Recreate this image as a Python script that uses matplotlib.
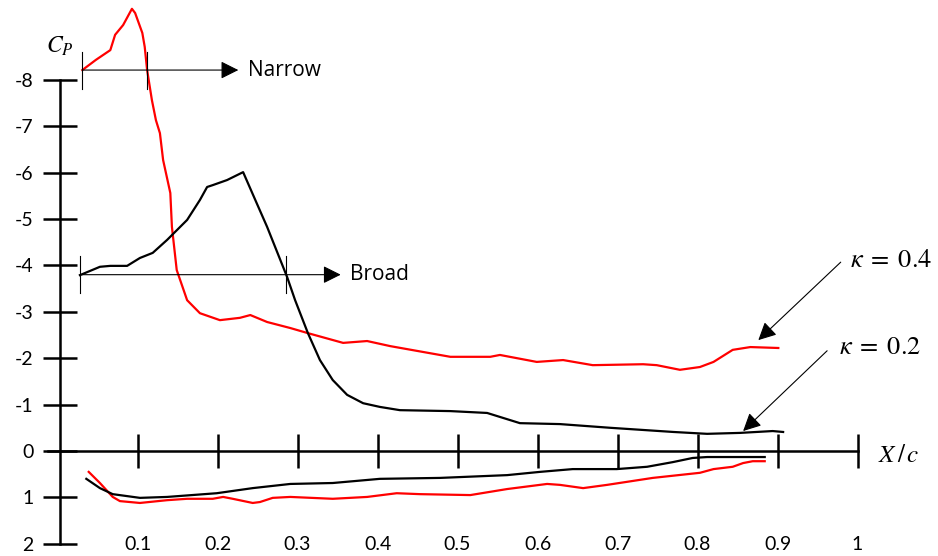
import matplotlib.pyplot as plt

plt.rcParams['axes.unicode_minus'] = False
plt.rcParams['mathtext.fontset'] = 'stix'

# kappa = 0.4 (red), upper and lower surface
red_up_x = [0.031, 0.048, 0.066, 0.072, 0.082, 0.093, 0.097, 0.106, 0.109, 0.112, 0.118, 0.123,
            0.128, 0.132, 0.141, 0.143, 0.149, 0.162, 0.178, 0.203, 0.228, 0.241, 0.262, 0.291,
            0.313, 0.357, 0.387, 0.416, 0.491, 0.541, 0.553, 0.599, 0.632, 0.669, 0.732, 0.749,
            0.778, 0.803, 0.820, 0.844, 0.866, 0.901]
red_up_y = [-8.21, -8.43, -8.64, -8.97, -9.18, -9.53, -9.44, -9.01, -8.71, -8.21, -7.56, -7.13,
            -6.85, -6.27, -5.56, -4.83, -3.90, -3.25, -2.97, -2.82, -2.87, -2.93, -2.78, -2.65,
            -2.54, -2.33, -2.37, -2.26, -2.03, -2.03, -2.07, -1.92, -1.96, -1.85, -1.87, -1.85,
            -1.75, -1.81, -1.92, -2.18, -2.24, -2.22]
red_lo_x = [0.039, 0.053, 0.069, 0.078, 0.103, 0.137, 0.162, 0.194, 0.207, 0.219, 0.244, 0.253,
            0.269, 0.291, 0.344, 0.387, 0.424, 0.453, 0.516, 0.562, 0.612, 0.628, 0.657, 0.687,
            0.744, 0.803, 0.820, 0.844, 0.857, 0.869, 0.884]
red_lo_y = [0.45, 0.69, 0.99, 1.08, 1.12, 1.06, 1.03, 1.03, 0.99, 1.03, 1.12, 1.10,
            1.01, 0.99, 1.03, 0.99, 0.91, 0.93, 0.95, 0.82, 0.71, 0.73, 0.80, 0.73,
            0.58, 0.47, 0.39, 0.34, 0.26, 0.22, 0.22]

# kappa = 0.2 (black), upper and lower surface
blk_up_x = [0.028, 0.053, 0.066, 0.087, 0.103, 0.119, 0.137, 0.162, 0.178, 0.187, 0.194, 0.212,
            0.232, 0.249, 0.262, 0.287, 0.297, 0.313, 0.328, 0.344, 0.362, 0.382, 0.403, 0.428,
            0.491, 0.537, 0.578, 0.628, 0.691, 0.770, 0.812, 0.853, 0.894, 0.907]
blk_up_y = [-3.79, -3.97, -3.99, -3.99, -4.16, -4.27, -4.55, -4.98, -5.41, -5.69, -5.73, -5.84,
            -6.01, -5.34, -4.83, -3.75, -3.25, -2.54, -1.96, -1.53, -1.21, -1.03, -0.95, -0.88,
            -0.86, -0.82, -0.60, -0.58, -0.50, -0.41, -0.37, -0.39, -0.43, -0.41]
blk_lo_x = [0.036, 0.053, 0.069, 0.103, 0.137, 0.199, 0.244, 0.291, 0.344, 0.403, 0.478, 0.562,
            0.603, 0.644, 0.699, 0.737, 0.769, 0.794, 0.812, 0.884]
blk_lo_y = [0.60, 0.80, 0.93, 1.01, 0.99, 0.91, 0.80, 0.71, 0.69, 0.60, 0.58, 0.52,
            0.45, 0.39, 0.39, 0.34, 0.24, 0.15, 0.13, 0.13]

x_ticks = [0.1, 0.2, 0.3, 0.4, 0.5, 0.6, 0.7, 0.8, 0.9, 1.0]
x_tick_labels = ['0.1', '0.2', '0.3', '0.4', '0.5', '0.6', '0.7', '0.8', '0.9', '1']
y_ticks = [-8, -7, -6, -5, -4, -3, -2, -1, 0, 1, 2]

fig = plt.figure(figsize=(9.38, 5.56), dpi=100)
ax = fig.add_axes([0, 0, 1, 1])
ax.set_xlim(-0.0719, 1.1006)
ax.set_ylim(2.263, -9.72)

ax.plot(red_up_x, red_up_y, color='red', lw=1.6, solid_joinstyle='round')
ax.plot(red_lo_x, red_lo_y, color='red', lw=1.6, solid_joinstyle='round')
ax.plot(blk_up_x, blk_up_y, color='black', lw=1.6, solid_joinstyle='round')
ax.plot(blk_lo_x, blk_lo_y, color='black', lw=1.6, solid_joinstyle='round')

# axes through the origin
for s in ['top', 'right']:
    ax.spines[s].set_visible(False)
ax.spines['left'].set_position(('data', 0.003))
ax.spines['left'].set_bounds(-8, 2)
ax.spines['bottom'].set_position(('data', 0))
ax.spines['bottom'].set_bounds(-0.012, 1.0)
for s in ['left', 'bottom']:
    ax.spines[s].set_linewidth(1.8)

ax.set_xticks(x_ticks)
ax.set_xticklabels(x_tick_labels)
ax.set_yticks(y_ticks)
ax.tick_params(axis='both', direction='inout', length=24, width=1.8, labelsize=14)
ax.tick_params(axis='x', pad=49)
ax.tick_params(axis='y', pad=7)
for lab in ax.get_xticklabels() + ax.get_yticklabels():
    lab.set_family('Lato')

ax.text(0.003, -8.73, '$C_P$', fontsize=17, ha='center', va='center')
ax.text(1.052, 0.09, r'$X\,/\,c$', fontsize=18, ha='center', va='center')

# Narrow / Broad markers
arrow_style = dict(arrowstyle='-|>,head_length=0.6,head_width=0.3', color='black',
                   lw=0.8, mutation_scale=18, shrinkA=0, shrinkB=0)
ax.annotate('', xy=(0.226, -8.21), xytext=(0.031, -8.21), arrowprops=arrow_style)
ax.plot([0.031, 0.031], [-8.6, -7.8], color='black', lw=0.8)
ax.plot([0.112, 0.112], [-8.6, -7.8], color='black', lw=0.8)
ax.text(0.238, -8.21, 'Narrow', fontsize=15, family='Open Sans', va='center')

ax.annotate('', xy=(0.354, -3.80), xytext=(0.028, -3.80), arrowprops=arrow_style)
ax.plot([0.028, 0.028], [-4.2, -3.4], color='black', lw=0.8)
ax.plot([0.286, 0.286], [-4.2, -3.4], color='black', lw=0.8)
ax.text(0.366, -3.80, 'Broad', fontsize=15, family='Open Sans', va='center')

# kappa labels
ax.annotate('', xy=(0.876, -2.39), xytext=(0.979, -4.07), arrowprops=arrow_style)
ax.text(1.042, -4.12, r'$\kappa\;=\;0.4$', fontsize=19, ha='center', va='center')
ax.annotate('', xy=(0.857, -0.43), xytext=(0.962, -2.16), arrowprops=arrow_style)
ax.text(1.028, -2.24, r'$\kappa\;=\;0.2$', fontsize=19, ha='center', va='center')

plt.savefig('out.png', dpi=100)
